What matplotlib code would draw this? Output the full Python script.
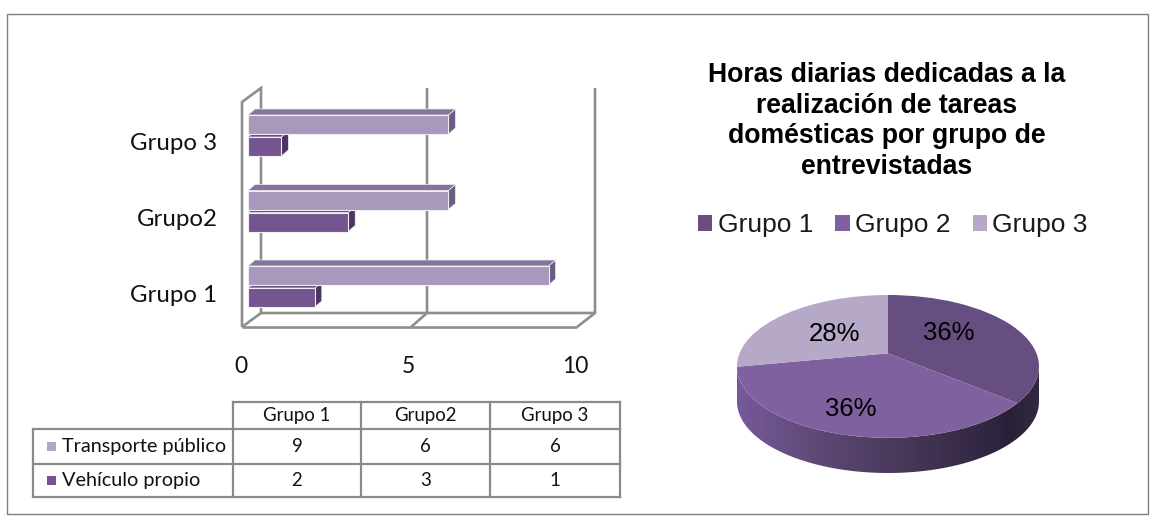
import numpy as np
import matplotlib
matplotlib.use("Agg")
import matplotlib.pyplot as plt
from matplotlib.patches import Rectangle, Polygon
from matplotlib.transforms import Transform, ScaledTranslation
from matplotlib.colors import LinearSegmentedColormap

groups = ["Grupo 1", "Grupo2", "Grupo 3"]
publico = [9, 6, 6]
propio = [2, 3, 1]
series_names = ["Transporte público", "Vehículo propio"]
x_ticks = [0, 5, 10]
pie_labels = ["Grupo 1", "Grupo 2", "Grupo 3"]
pie_values = [36, 36, 28]
pie_title = "Horas diarias dedicadas a la\nrealización de tareas\ndomésticas por grupo de\nentrevistadas"

W, H = 1159, 517
CAL = ["Lato", "DejaVu Sans"]
ARI = ["Liberation Sans", "DejaVu Sans"]
fig = plt.figure(figsize=(W / 100, H / 100), dpi=100, facecolor="white")

def axes_px(l, t, r, b, **kw):
    return fig.add_axes([l / W, 1 - b / H, (r - l) / W, (b - t) / H], **kw)

# overlay in pixel space: frame, 3-D walls, data table
ov = axes_px(0, 0, W, H)
ov.set_xlim(0, W); ov.set_ylim(H, 0); ov.axis("off")
ov.add_patch(Rectangle((7, 14), 1141, 500, fc="none", ec="#7f7f7f", lw=1))
wall = "#8e8e8e"
for xs, ys in [((242, 242, 261, 261), (327, 102, 88, 313)),
               ((242, 577), (327, 327)), ((242, 261, 595), (327, 313, 313)),
               ((427, 427, 411), (88, 313, 327)),
               ((595, 595, 577), (88, 313, 327))]:
    ov.plot(xs, ys, color=wall, lw=1.9, solid_capstyle="butt", solid_joinstyle="miter")

# bars
ax = axes_px(241, 88, 575, 327)
ax.patch.set_alpha(0)
ax.set_xlim(0, 10)
px_y = 75.5
ax.set_ylim(-(327 - 286.5) / px_y, (286.5 - 88) / px_y)
for s in ax.spines.values():
    s.set_visible(False)
y = np.arange(len(groups))
h = 19 / px_y
start = 7 / 33.4
dx, dy = 7 / 33.4, 6 / px_y
LIGHT = ("#a898bc", "#85749c", "#6b5c82")
DARK = ("#75558f", "#5f4a78", "#4a3660")
def bar3d(yc, vals, cols):
    ax.barh(yc, vals, height=h, left=start, color=cols[0], edgecolor="#f1edf5", linewidth=0.8, zorder=3)
    for yi, v in zip(yc, vals):
        r = start + v
        ax.add_patch(Polygon([(r, yi - h / 2), (r + dx, yi - h / 2 + dy), (r + dx, yi + h / 2 + dy), (r, yi + h / 2)],
                             fc=cols[2], ec="#f1edf5", lw=0.5, zorder=2, clip_on=False))
        ax.add_patch(Polygon([(start, yi + h / 2), (start + dx, yi + h / 2 + dy), (r + dx, yi + h / 2 + dy), (r, yi + h / 2)],
                             fc=cols[1], ec="#f1edf5", lw=0.5, zorder=2, clip_on=False))
bar3d(y + 11 / px_y, publico, LIGHT)
bar3d(y - 11 / px_y, propio, DARK)
ax.set_xticks(x_ticks)
ax.set_xticklabels([str(t) for t in x_ticks], family=CAL, fontsize=16.5, color="#111111")
ax.set_yticks(y)
ax.set_yticklabels(groups, family=CAL, fontsize=17.3, color="#111111")
ax.tick_params(length=0)
ax.tick_params(axis="x", pad=21)
ax.tick_params(axis="y", pad=17)
for lab in ax.get_yticklabels():
    lab.set_transform(lab.get_transform() + ScaledTranslation(0, -6.5 / 72 * 0.72, fig.dpi_scale_trans))

# data table
tx = [33, 233, 361, 490, 620]
ty = [402, 429, 464, 497]
tc = "#8a8a8a"
tlw = 1.6
ov.plot([tx[1], tx[4]], [ty[0], ty[0]], color=tc, lw=tlw)
for yv in ty[1:]:
    ov.plot([tx[0], tx[4]], [yv, yv], color=tc, lw=tlw)
ov.plot([tx[0], tx[0]], [ty[1], ty[3]], color=tc, lw=tlw)
for xv in tx[1:]:
    ov.plot([xv, xv], [ty[0], ty[3]], color=tc, lw=tlw)
for i, g in enumerate(groups):
    cx = (tx[i + 1] + tx[i + 2]) / 2
    ov.text(cx, (ty[0] + ty[1]) / 2, g, ha="center", va="center", family=CAL, fontsize=13.4, color="#111111")
    ov.text(cx, (ty[1] + ty[2]) / 2, str(publico[i]), ha="center", va="center", family=CAL, fontsize=13.4, color="#111111")
    ov.text(cx, (ty[2] + ty[3]) / 2, str(propio[i]), ha="center", va="center", family=CAL, fontsize=13.4, color="#111111")
for r, (name, col) in enumerate(zip(series_names, ("#b3a5c6", "#75558f"))):
    yc = (ty[r + 1] + ty[r + 2]) / 2
    ov.add_patch(Rectangle((47, yc - 4.5), 9, 9, fc=col, ec="none"))
    ov.text(62, yc, name, ha="left", va="center", family=CAL, fontsize=14.3, color="#111111")

# pie title
ov.text(887, 121, pie_title, ha="center", va="center", family=ARI, fontweight="bold",
        fontsize=19.2, linespacing=1.24, color="black")

# pie with perspective
class Persp(Transform):
    input_dims = output_dims = 2
    is_separable = False
    def __init__(self, a):
        super().__init__(); self.a = a
    def transform_non_affine(self, v):
        v = np.asarray(v, float)
        d = 1 + self.a * v[:, 1]
        return np.column_stack((v[:, 0] * np.sqrt(1 - self.a ** 2) / d, (v[:, 1] + self.a) / d))

pa = axes_px(737, 295, 1039, 473)
depth = 2 * 35 / 142
ylim = (-1 - depth, 1)
pa.set_xlim(-1, 1); pa.set_ylim(*ylim); pa.axis("off")
t = np.linspace(np.pi, 2 * np.pi, 200)
outline = np.vstack((np.column_stack((np.cos(t), np.sin(t) - depth)),
                     np.column_stack((np.cos(t[::-1]), np.sin(t[::-1])))))
side = Polygon(outline, closed=True, transform=pa.transData, fc="none", ec="none")
pa.add_patch(side)
cm = LinearSegmentedColormap.from_list("s", [(0, "#77599a"), (0.25, "#5f4a78"), (0.5, "#4c3b5e"),
                                             (0.85, "#2f2540"), (0.9, "#2a2138"), (1, "#33283f")])
im = pa.imshow(np.linspace(0, 1, 256)[None, :], extent=(-1, 1, ylim[0], ylim[1]), aspect="auto", cmap=cm, zorder=1)
im.set_clip_path(side)
wedges, _, autos = pa.pie(pie_values, startangle=90, counterclock=False, radius=1, center=(0, 0),
                          colors=["#664f80", "#7f61a0", "#b5a9c7"], autopct="%.0f%%",
                          wedgeprops=dict(linewidth=0), frame=False, normalize=True,
                          textprops=dict(family=ARI, fontsize=18.5, color="black"))
pa.set_aspect("auto"); pa.set_xlim(-1, 1); pa.set_ylim(*ylim)
pt = Persp(0.183)
for w in wedges:
    w.set_transform(pt + pa.transData)
    w.set_zorder(2)
for tt, pos in zip(autos, [(949, 333), (851, 408), (834, 334)]):
    tt.set_position(((pos[0] - 888) / 151, (366 - pos[1]) / 71))
    tt.set_zorder(3)
    tt.set_ha("center"); tt.set_va("center")

# legend
leg = ov.legend(wedges, pie_labels, ncol=3, loc="center", bbox_to_anchor=(893, 225),
                bbox_transform=ov.transData, frameon=False, handlelength=0.54, handleheight=0.54,
                handletextpad=0.2, columnspacing=0.85, prop=dict(family="Liberation Sans", size=19),
                labelcolor="#1a1a1a")

fig.savefig("out.png", dpi=100)
